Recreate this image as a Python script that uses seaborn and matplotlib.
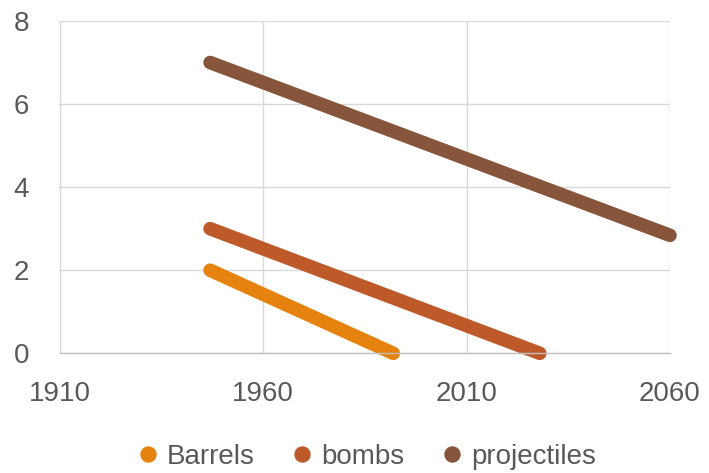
import pandas as pd
import matplotlib.pyplot as plt
import seaborn as sns

# data
series = ["Barrels", "bombs", "projectiles"]
start_year = [1947, 1947, 1947]
end_year = [1992, 2028, 2060]
start_val = [2, 3, 7]
end_val = [0, 0, 2.84]
colors = ["#E6830F", "#BE5A2A", "#87553B"]

rows = []
for name, x0, x1, y0, y1 in zip(series, start_year, end_year, start_val, end_val):
    rows.append({"series": name, "year": x0, "value": y0})
    rows.append({"series": name, "year": x1, "value": y1})
df = pd.DataFrame(rows)

sns.set_style("white")
plt.rcParams['font.family'] = ['Liberation Sans', 'DejaVu Sans']

W, H = 709, 473
fig = plt.figure(figsize=(W / 100, H / 100), dpi=100)
ax = fig.add_axes([59.5 / W, 1 - 353.3 / H, (670 - 59.5) / W, (353.3 - 21) / H])

palette = dict(zip(series, colors))
sns.lineplot(data=df, x="year", y="value", hue="series", palette=palette,
             linewidth=9.8, solid_capstyle="round", ax=ax, legend=False)

ax.set_xlim(1910, 2060)
ax.set_ylim(0, 8)
ax.set_xticks([1910, 1960, 2010, 2060])
ax.set_yticks([0, 2, 4, 6, 8])
ax.grid(True, color="#D9D9D9", linewidth=1.0)
ax.set_axisbelow(True)
for side in ["top", "right", "left"]:
    ax.spines[side].set_visible(False)
ax.spines["bottom"].set_color("#BFBFBF")
ax.spines["bottom"].set_linewidth(1.0)
ax.tick_params(axis="both", length=0, labelsize=20, labelcolor="#595959")
ax.tick_params(axis="x", pad=20)
ax.tick_params(axis="y", pad=22)
ax.set_xlabel("")
ax.set_ylabel("")
for line in ax.get_lines():
    line.set_clip_on(False)

handles = [plt.Line2D([], [], marker="o", linestyle="", markersize=10.8, color=c) for c in colors]
fig.legend(handles, series, loc="center", ncol=3, frameon=False,
           fontsize=20, labelcolor="#595959", handlelength=0.55, handletextpad=0.4,
           columnspacing=1.45, borderpad=0, borderaxespad=0,
           bbox_to_anchor=(368 / W, 1 - 457 / H))

fig.savefig("out.png", dpi=100)
